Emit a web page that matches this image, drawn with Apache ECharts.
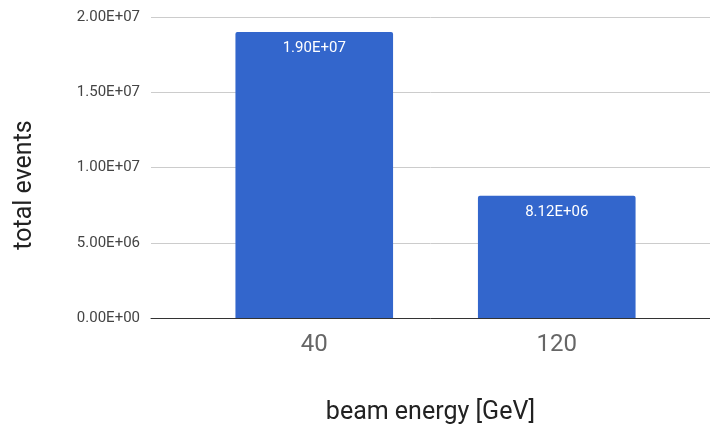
<!DOCTYPE html>
<html>
<head>
<meta charset="utf-8">
<script src="https://cdn.jsdelivr.net/npm/echarts@6/dist/echarts.min.js"></script>
<style>
html,body{margin:0;padding:0;background:#fff;}
#chart{width:710px;height:431px;}
</style>
</head>
<body>
<div id="chart"></div>
<script>
const categories = ['40', '120'];
const totalEvents = [19000000, 8120000];
const yTicks = [0, 5000000, 10000000, 15000000, 20000000];

function sci(v) {
  if (v === 0) return '0.00E+00';
  const e = Math.floor(Math.log10(Math.abs(v)));
  const m = v / Math.pow(10, e);
  const es = (e < 0 ? '-' : '+') + String(Math.abs(e)).padStart(2, '0');
  return m.toFixed(2) + 'E' + es;
}

const chart = echarts.init(document.getElementById('chart'), null, {renderer: 'canvas'});
const FONT = 'Roboto';
chart.setOption({
  animation: false,
  textStyle: {fontFamily: FONT},
  grid: [
    {left: 151, right: 0, top: 17, bottom: 113, outerBoundsMode: 'none', containLabel: false},
    {left: 193, right: 32, top: 17, bottom: 113, outerBoundsMode: 'none', containLabel: false}
  ],
  xAxis: [
    {
      gridIndex: 0, type: 'category', data: [''],
      axisLine: {show: true, lineStyle: {color: '#333', width: 1}},
      axisTick: {show: false}, axisLabel: {show: false},
      name: 'beam energy [GeV]', nameLocation: 'middle', nameGap: 82,
      nameTextStyle: {fontSize: 25, color: '#222', fontFamily: FONT},
      z: 5
    },
    {
      gridIndex: 1, type: 'category', data: categories,
      axisLine: {show: false}, axisTick: {show: false},
      axisLabel: {fontSize: 24, color: '#666', margin: 15, fontFamily: FONT}
    }
  ],
  yAxis: [
    {
      gridIndex: 0, type: 'value', min: yTicks[0], max: yTicks[yTicks.length - 1],
      interval: yTicks[1] - yTicks[0],
      axisLine: {show: false}, axisTick: {show: false},
      splitLine: {lineStyle: {color: '#ccc', width: 1}},
      axisLabel: {formatter: sci, fontSize: 15, color: '#444', margin: 11, fontFamily: FONT}
    },
    {
      gridIndex: 1, type: 'value', min: yTicks[0], max: yTicks[yTicks.length - 1],
      interval: yTicks[1] - yTicks[0],
      axisLine: {show: false}, axisTick: {show: false},
      splitLine: {show: false}, axisLabel: {show: false}
    }
  ],
  graphic: [
    {
      type: 'text', x: 25, y: 185, rotation: Math.PI / 2,
      style: {text: 'total events', fontSize: 25, fill: '#222', fontFamily: FONT,
              align: 'center', verticalAlign: 'middle'}
    }
  ],
  series: [
    {
      type: 'bar', xAxisIndex: 1, yAxisIndex: 1, data: totalEvents,
      barWidth: '65%',
      itemStyle: {color: '#3366cc', borderRadius: [2, 2, 0, 0]},
      label: {show: true, position: 'insideTop', distance: 9, color: '#fff',
              fontSize: 15, fontFamily: FONT, formatter: p => sci(p.value)},
      z: 3
    }
  ]
});
</script>
</body>
</html>
